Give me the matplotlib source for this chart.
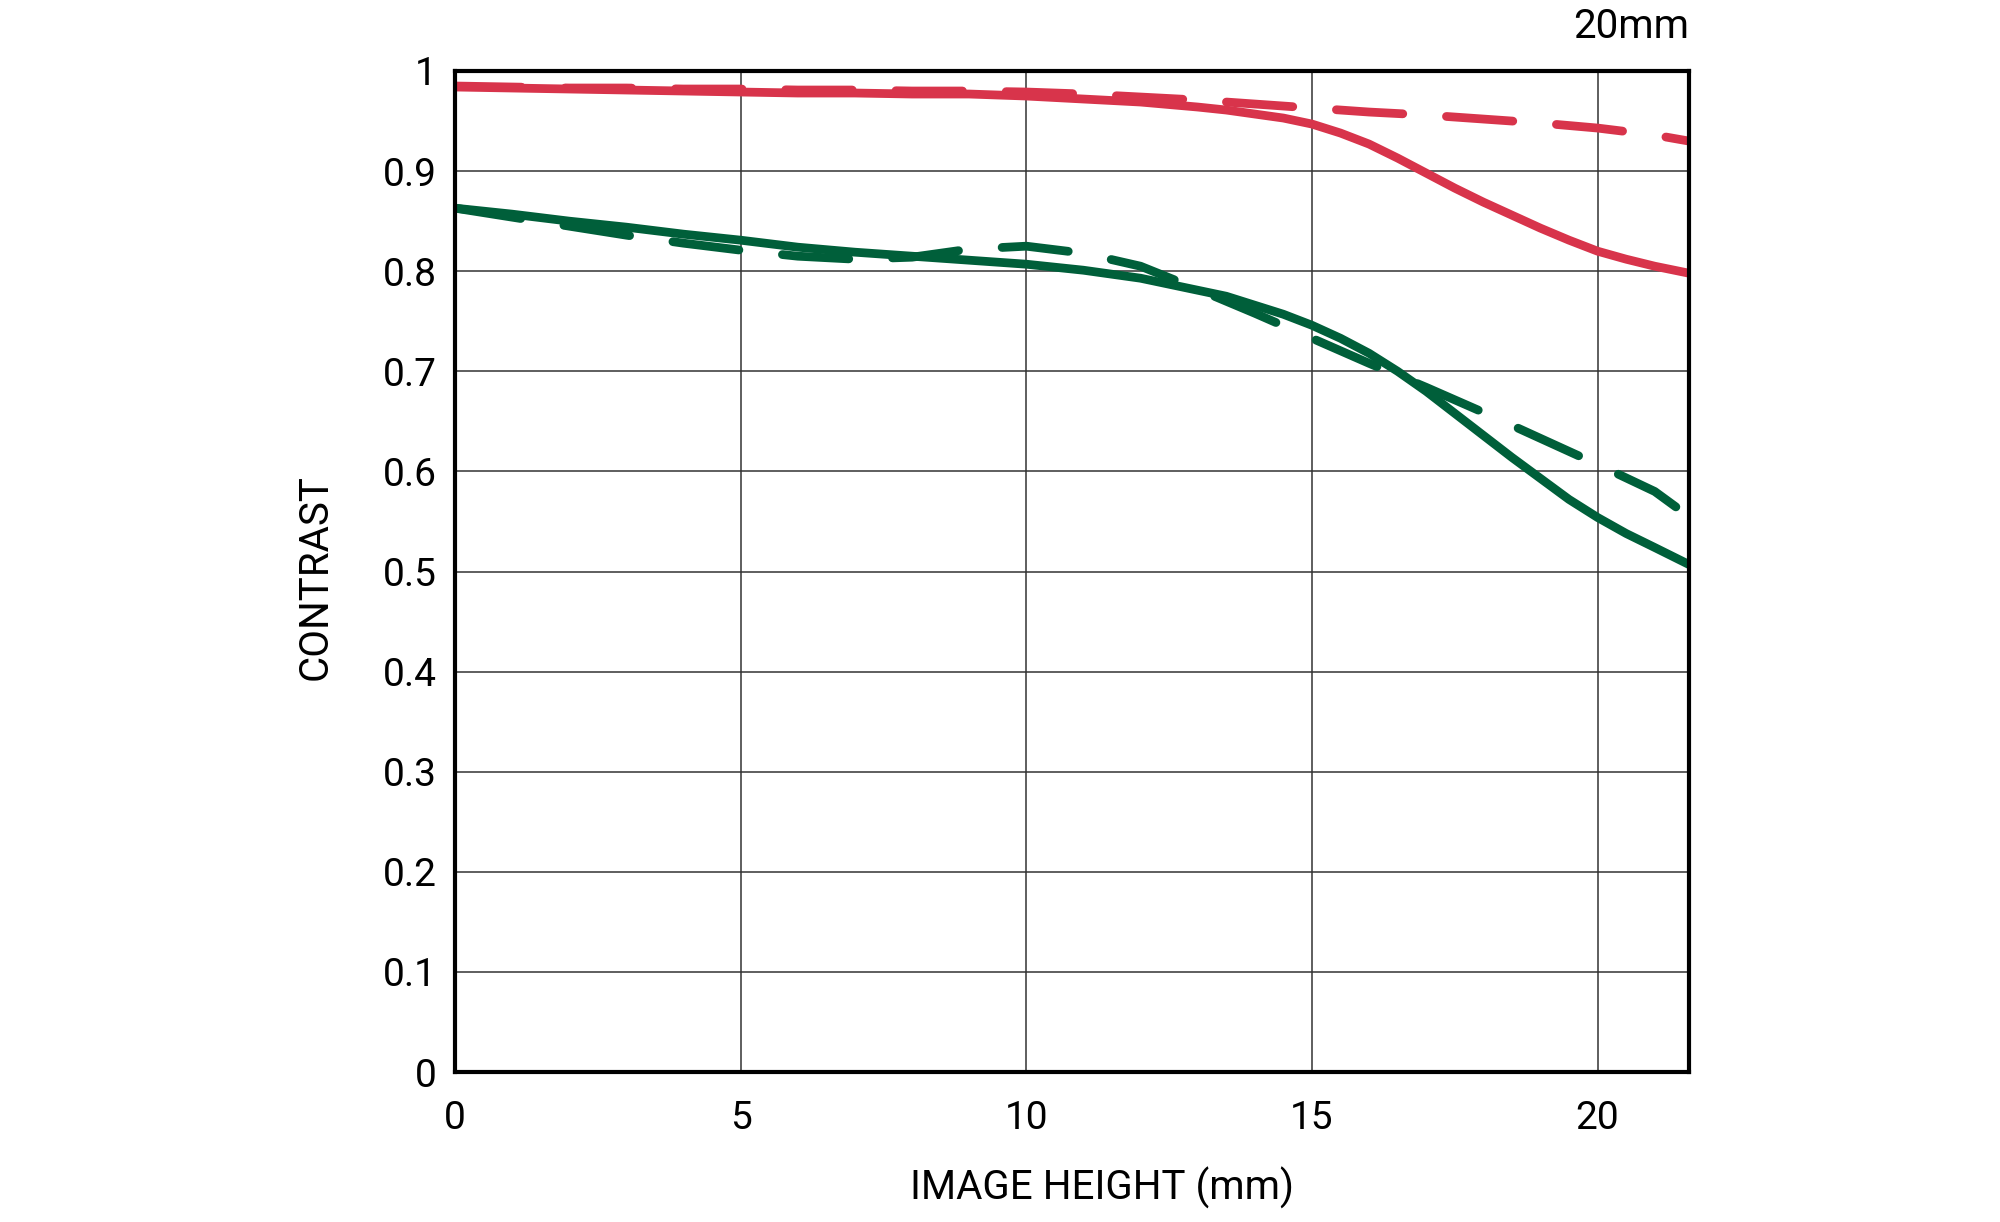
import numpy as np
import matplotlib
matplotlib.use("Agg")
import matplotlib.pyplot as plt

# MTF readings, image height in mm
x_coarse = [0, 1, 2, 3, 4, 5, 6, 7, 8, 9, 10, 11, 12, 13, 14, 15, 16, 17, 18, 19, 20, 21, 21.6]
x_fine = [0, 1, 2, 3, 4, 5, 6, 7, 8, 9, 10, 11, 12, 13, 13.5, 14, 14.5, 15, 15.5, 16, 16.5,
          17, 17.5, 18, 18.5, 19, 19.5, 20, 20.5, 21, 21.6]

red_solid = [0.984, 0.983, 0.982, 0.981, 0.980, 0.979, 0.978, 0.978, 0.977, 0.977, 0.975, 0.972,
             0.969, 0.964, 0.961, 0.957, 0.953, 0.947, 0.938, 0.927, 0.913, 0.898, 0.883, 0.869,
             0.856, 0.843, 0.831, 0.820, 0.812, 0.805, 0.798]
red_dash = [0.985, 0.984, 0.983, 0.983, 0.982, 0.982, 0.981, 0.981, 0.980, 0.980, 0.979, 0.977,
            0.974, 0.971, 0.967, 0.963, 0.959, 0.956, 0.952, 0.948, 0.943, 0.936, 0.930]
green_solid = [0.863, 0.857, 0.850, 0.844, 0.837, 0.831, 0.824, 0.819, 0.815, 0.811, 0.807, 0.801,
               0.793, 0.781, 0.775, 0.766, 0.757, 0.746, 0.733, 0.718, 0.700, 0.680, 0.658, 0.636,
               0.614, 0.593, 0.572, 0.554, 0.538, 0.524, 0.507]
green_dash = [0.863, 0.854, 0.845, 0.836, 0.828, 0.821, 0.815, 0.812, 0.814, 0.822, 0.825, 0.818,
              0.805, 0.782, 0.758, 0.733, 0.708, 0.684, 0.659, 0.633, 0.607, 0.580, 0.555]

x_ticks = [0, 5, 10, 15, 20]
y_ticks = [0, 0.1, 0.2, 0.3, 0.4, 0.5, 0.6, 0.7, 0.8, 0.9, 1]
y_labels = ["0", "0.1", "0.2", "0.3", "0.4", "0.5", "0.6", "0.7", "0.8", "0.9", "1"]

RED = "#d8344b"
GREEN = "#005f3a"
font = ["Roboto", "DejaVu Sans"]

fig = plt.figure(figsize=(20, 12.22), dpi=100)
ax = fig.add_axes([0.2275, 0.1227, 0.617, 0.8192])

lw = 6.3
ax.plot(x_coarse, red_dash, color=RED, lw=lw, dashes=(7.6, 5.0), dash_capstyle="round", zorder=3)
ax.plot(x_fine, red_solid, color=RED, lw=lw, solid_capstyle="butt", solid_joinstyle="round", zorder=3)
ax.plot(x_coarse, green_dash, color=GREEN, lw=lw, dashes=(7.6, 5.0), dash_capstyle="round", zorder=3)
ax.plot(x_fine, green_solid, color=GREEN, lw=lw, solid_capstyle="butt", solid_joinstyle="round", zorder=3)

ax.set_xlim(0, 21.6)
ax.set_ylim(0, 1)
ax.set_xticks(x_ticks)
ax.set_yticks(y_ticks)
ax.set_yticklabels(y_labels)
ax.grid(True, color="#333333", lw=1.1)
ax.set_axisbelow(True)
ax.tick_params(length=0)
ax.tick_params(axis="x", pad=20, labelsize=28)
ax.tick_params(axis="y", pad=13, labelsize=28)
for t in ax.get_xticklabels() + ax.get_yticklabels():
    t.set_family(font)
for s in ax.spines.values():
    s.set_linewidth(3)
    s.set_color("black")
    s.set_zorder(4)

fig.text(1102 / 2000, 1 - 1188 / 1222, "IMAGE HEIGHT (mm)", ha="center", va="center",
         fontsize=29, family=font)
fig.text(315 / 2000, 1 - 577 / 1222, "CONTRAST", ha="center", va="center", rotation=90,
         fontsize=29, family=font)
fig.text(1689 / 2000, 1 - 27 / 1222, "20mm", ha="right", va="center", fontsize=29, family=font)

fig.savefig("out.png", dpi=100)
